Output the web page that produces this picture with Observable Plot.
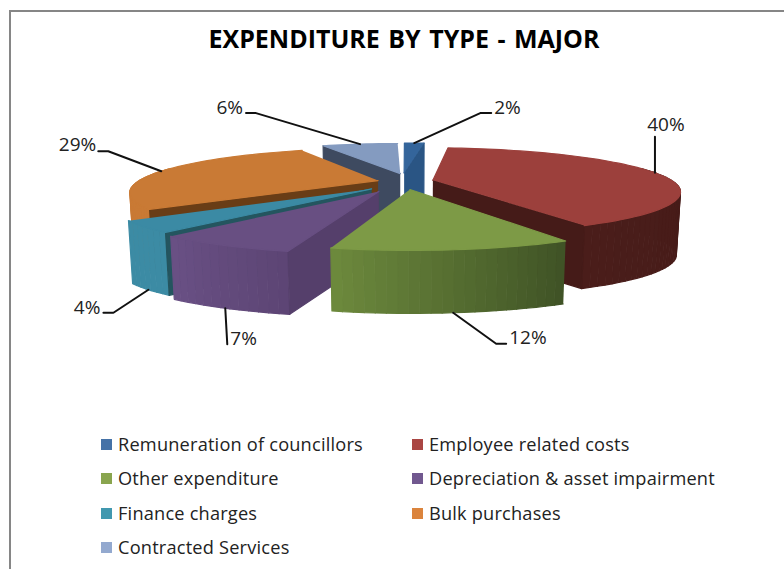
<!DOCTYPE html>
<html>
<head>
<meta charset="utf-8">
<script src="https://cdn.jsdelivr.net/npm/d3@7"></script>
<script src="https://cdn.jsdelivr.net/npm/@observablehq/plot@0.6"></script>
<style>
html,body{margin:0;padding:0;width:784px;height:569px;overflow:hidden;background:#fff;font-family:"Open Sans",sans-serif;}
#frame{position:absolute;left:9px;top:10px;width:800px;height:600px;border:2px solid #868686;}
#title{position:absolute;left:0;top:23px;width:808px;text-align:center;font-weight:700;font-size:25px;line-height:30px;color:#000;word-spacing:2px;}
#chart{position:absolute;left:0;top:70px;}
.lg{position:absolute;font-size:18.2px;line-height:24px;color:#222;white-space:nowrap;letter-spacing:.2px;}
.sw{position:absolute;width:11px;height:11px;}
</style>
</head>
<body>
<div id="frame"></div>
<div id="title">EXPENDITURE BY TYPE - MAJOR</div>
<div id="chart"></div>
<div id="legend"></div>
<script>
const categories = ["Remuneration of councillors","Employee related costs","Other expenditure","Depreciation & asset impairment","Finance charges","Bulk purchases","Contracted Services"];
const shares = [1.7, 40.45, 11.7, 7.0, 3.85, 28.5, 6.49];
const legendColors = ["#4572a7","#aa4643","#89a54e","#71588f","#4198af","#db843d","#93a9cf"];
const topColors = ["#34659b","#9c403c","#7d9a46","#684f82","#3b8aa4","#c97a35","#849bc0"];
const rimFrom = ["#2a5584","#401a17","#3f5225","#5c4574","#3c8ba4","#c97a35","#849bc0"];
const rimTo = ["#2a5584","#4a1d1a","#6d8a3d","#6a5085","#3c8ba4","#c97a35","#849bc0"];
const wallColors = ["#2a5584","#451b18","#3f5225","#553f6b","#24555f","#693d16","#3e4a60"];
const explodeX = [-.006,.115,.0175,-.105,-.135,-.115,-.023];
const explodeY = [.27,.08,-.139,-.18,-.124,.07,.25];
const paintOrder = [6,0,5,1,4,3,2];
// leader offsets from the rim anchor: elbow dx,dy then end dx,dy, label anchor
const leaders = [[66,-30,77,-30,"start"],[0,-36,0,-36,"middle"],[43,31,53,31,"start"],[2,36,2,36,"start"],[-35,23,-45,23,"end"],[-53,-20,-63,-20,"end"],[-104,-31,-114,-31,"end"]];
const labelShift = [[3,-5],[11,-12],[3,-6],[3,-5],[-3,-5],[-2,-6],[-3,-5]];
const frontAnchor = [false,false,true,true,true,false,false];

const cx=405, cy=183, a=243, b=42, k=.25, depth=63, shrink=.985;
const rad=d=>d*Math.PI/180;
function project(X,Y,bottom){
  const d=1+k*Y; let sx=cx+a*X/d, sy=cy-b*Y/d;
  if(bottom){sx=cx+(sx-cx)*shrink; sy+=depth;}
  return [sx,sy];
}
let acc=0;
const slices=shares.map((v,i)=>{
  const t0=acc*3.6; acc+=v; const t1=acc*3.6; const m=(t0+t1)/2;
  return {i,v,t0,t1,m,ox:explodeX[i],oy:explodeY[i]};
});
function pt(s,r,t,bottom){return project(s.ox+r*Math.sin(rad(t)),s.oy+r*Math.cos(rad(t)),bottom);}
const faces=[]; let fid=0;
function addFace(points,col,sw){const f=fid++; for(const p of points) faces.push({face:f,x:p[0],y:p[1],col,sw});}
for(const i of paintOrder){
  const s=slices[i];
  const n=Math.max(3,Math.ceil((s.t1-s.t0)/2));
  const ang=d3.range(n+1).map(j=>s.t0+(s.t1-s.t0)*j/n);
  const mix=d3.interpolateLab(rimFrom[i],rimTo[i]);
  for(let j=0;j<n;j++){
    if(Math.cos(rad(ang[j]))>.3 && Math.cos(rad(ang[j+1]))>.3) continue;
    addFace([pt(s,1,ang[j]),pt(s,1,ang[j+1]),pt(s,1,ang[j+1],true),pt(s,1,ang[j],true)],mix((j+.5)/n));
  }
  const wall=t=>[pt(s,0,t),pt(s,1,t),pt(s,1,t,true),pt(s,0,t,true)];
  if(Math.sin(rad(s.t1))>0) addFace(wall(s.t1),wallColors[i]);
  if(Math.sin(rad(s.t0))<0) addFace(wall(s.t0),wallColors[i]);
  addFace([pt(s,0,s.t0),...ang.map(t=>pt(s,1,t))],topColors[i]);
}
const leaderRows=[], labels=[];
slices.forEach(s=>{
  const [ax,ay]=pt(s,1,s.m,frontAnchor[s.i]);
  const [ex,ey,fx,fy,anchor]=leaders[s.i];
  leaderRows.push({s:s.i,x:ax,y:ay},{s:s.i,x:ax+ex,y:ay+ey},{s:s.i,x:ax+fx,y:ay+fy});
  labels.push({x:ax+fx+labelShift[s.i][0],y:ay+fy+labelShift[s.i][1],t:Math.round(s.v)+"%",anchor});
});
const textMark=an=>Plot.text(labels.filter(d=>d.anchor===an),{x:"x",y:"y",text:"t",textAnchor:an,fontSize:19,fontFamily:"Open Sans",fill:"#222"});
const chart=Plot.plot({
  width:784,height:360,margin:0,
  x:{domain:[0,784],range:[0,784],axis:null},
  y:{domain:[70,430],range:[0,360],axis:null},
  color:{type:"identity"},
  style:{background:"transparent"},
  marks:[
    Plot.line(faces,{x:"x",y:"y",z:"face",fill:"col",stroke:"col",strokeWidth:1.2}),
    Plot.line(leaderRows,{x:"x",y:"y",z:"s",stroke:"#111",strokeWidth:2}),
    textMark("start"),textMark("middle"),textMark("end")
  ]
});
document.getElementById("chart").append(chart);
const lg=document.getElementById("legend");
const colX=[101,412], rowY=[444,478,513,547];
categories.forEach((c,i)=>{
  const x=colX[i%2], y=rowY[Math.floor(i/2)];
  const sw=document.createElement("div"); sw.className="sw";
  sw.style.cssText=`left:${x}px;top:${y-5.5}px;background:${legendColors[i]}`;
  const t=document.createElement("div"); t.className="lg"; t.textContent=c;
  t.style.cssText=`left:${x+17}px;top:${y-12}px`;
  lg.append(sw,t);
});
</script>
</body>
</html>
